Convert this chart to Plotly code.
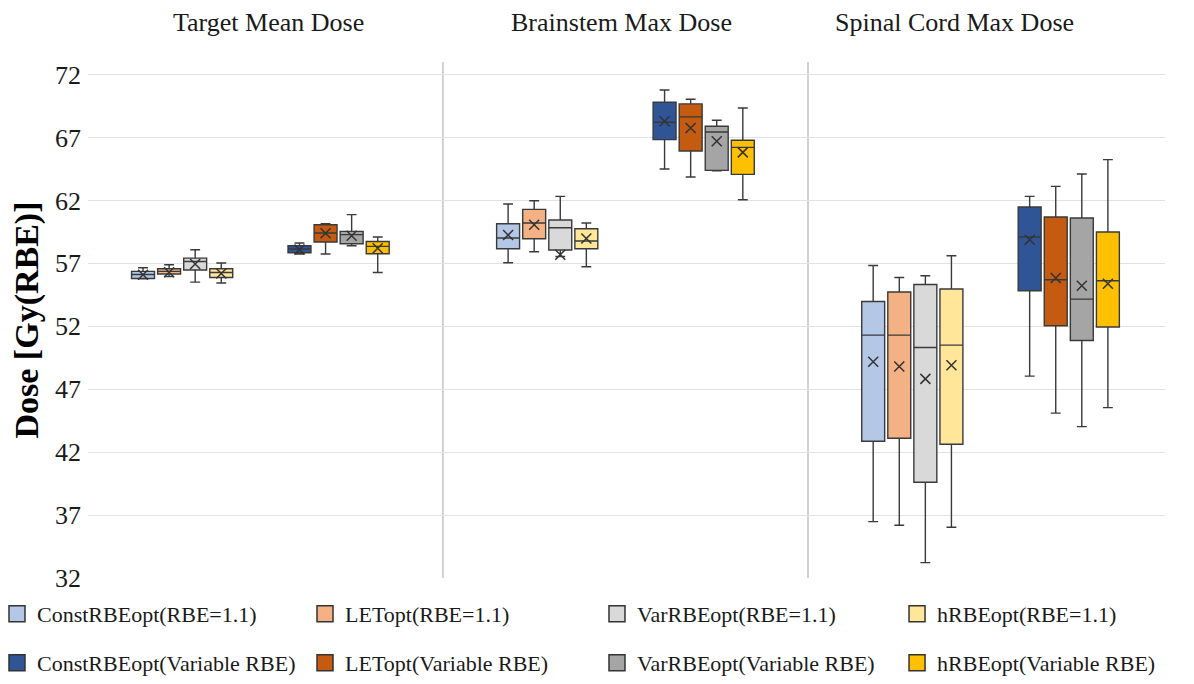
import plotly.graph_objects as go

# ---------------- data ----------------
organs = ["Target Mean Dose", "Brainstem Max Dose", "Spinal Cord Max Dose"]
series_names = [
    "ConstRBEopt(RBE=1.1)", "LETopt(RBE=1.1)", "VarRBEopt(RBE=1.1)", "hRBEopt(RBE=1.1)",
    "ConstRBEopt(Variable RBE)", "LETopt(Variable RBE)", "VarRBEopt(Variable RBE)", "hRBEopt(Variable RBE)",
]
# each row: one series, values per organ [Target, Brainstem, Spinal Cord]
lower = [
    [55.78, 57.05, 36.48], [55.96, 57.92, 36.19], [55.51, 57.55, 33.22], [55.44, 56.73, 36.03],
    [57.74, 64.50, 48.04], [57.74, 63.86, 45.10], [58.40, 64.35, 44.03], [56.28, 62.06, 45.54],
]
q1 = [
    [55.80, 58.16, 42.87], [56.15, 58.96, 43.11], [56.47, 58.06, 39.61], [55.88, 58.16, 42.63],
    [57.84, 66.83, 54.82], [58.70, 65.93, 52.04], [58.56, 64.39, 50.87], [57.77, 64.07, 51.94],
]
median = [
    [56.12, 59.01, 51.30], [56.36, 60.21, 51.30], [57.15, 59.83, 50.31], [56.28, 58.78, 50.50],
    [58.14, 68.21, 59.09], [59.41, 68.64, 55.70], [59.28, 67.44, 54.16], [58.35, 66.22, 55.62],
]
q3 = [
    [56.36, 60.15, 53.97], [56.57, 61.29, 54.72], [57.42, 60.44, 55.32], [56.57, 59.75, 54.96],
    [58.40, 69.80, 61.48], [60.07, 69.67, 60.68], [59.54, 67.89, 60.60], [58.74, 66.78, 59.49],
]
upper = [
    [56.65, 61.72, 56.83], [56.89, 61.98, 55.88], [58.08, 62.32, 56.02], [57.03, 60.21, 57.61],
    [58.62, 70.78, 62.32], [60.15, 70.04, 63.12], [60.87, 68.37, 64.10], [59.09, 69.35, 65.24],
]
mean = [
    [56.10, 59.25, 49.18], [56.30, 60.07, 48.80], [56.95, 57.69, 47.82], [56.20, 58.98, 48.91],
    [58.10, 68.29, 58.88], [59.40, 67.76, 55.83], [59.20, 66.70, 55.22], [58.20, 65.82, 55.38],
]
y_ticks = [32, 37, 42, 47, 52, 57, 62, 67, 72]

fill_colors = ["#b4c7e7", "#f4b183", "#d9d9d9", "#ffe699",
               "#2f5597", "#c55a11", "#a5a5a5", "#ffc000"]
FONT = "Liberation Serif"

# ---------------- category slots ----------------
def cat(o, k):
    return f"{o}-{k}"

category_order = []
for o in range(3):
    category_order += [cat(o, k) for k in range(4)]
    category_order += [f"gap{o}a", f"gap{o}b"]
    category_order += [cat(o, k) for k in range(4, 8)]
    if o < 2:
        category_order += [f"sep{o}{j}" for j in range(4)]

legend_ids = ["legend"] + [f"legend{i}" for i in range(2, 9)]

fig = go.Figure()
for k, name in enumerate(series_names):
    xs = [cat(o, k) for o in range(3)]
    fig.add_trace(go.Box(
        x=xs, q1=q1[k], median=median[k], q3=q3[k],
        lowerfence=lower[k], upperfence=upper[k],
        name=name, fillcolor=fill_colors[k],
        line=dict(color="#3a3a3a", width=1.4),
        width=0.88, whiskerwidth=0.43, boxpoints=False,
        showlegend=False,
        hoverinfo="skip",
    ))
for k, name in enumerate(series_names):
    xs = [cat(o, k) for o in range(3)]
    fig.add_trace(go.Scatter(
        x=xs, y=mean[k], mode="markers", showlegend=False,
        marker=dict(symbol="x-thin", size=10, line=dict(width=1.5, color="#333333")),
        hoverinfo="skip",
    ))
# legend entries (square swatches, no data)
for k, name in enumerate(series_names):
    fig.add_trace(go.Scatter(
        x=[None], y=[None], mode="markers", name=name, legend=legend_ids[k],
        marker=dict(symbol="square", size=16, color=fill_colors[k],
                    line=dict(width=1.5, color="#333333")),
        hoverinfo="skip",
    ))

# separators between organ sections
for xv in [11.5, 25.5]:
    fig.add_shape(type="line", xref="x", yref="paper", x0=xv, x1=xv, y0=0, y1=1,
                  line=dict(color="#d0d0d0", width=2), layer="below")

title_x = [0.168, 0.4949, 0.805]
for o, t in enumerate(organs):
    fig.add_annotation(text=t, xref="paper", yref="paper", x=title_x[o], y=1,
                       xanchor="center", yanchor="middle", yshift=40, showarrow=False,
                       font=dict(family=FONT, size=26, color="#1a1a1a"))

legend_x = [-0.0845, 0.2015, 0.4726, 0.7512]
legend_y = [-0.0698, -0.1647]
legend_layout = {}
for k, lid in enumerate(legend_ids):
    legend_layout[lid] = dict(
        orientation="h", xanchor="left", yanchor="middle",
        x=legend_x[k % 4], y=legend_y[k // 4],
        font=dict(family=FONT, size=22, color="#1a1a1a"),
        bgcolor="rgba(0,0,0,0)",
    )

fig.update_layout(
    width=1194, height=684,
    margin=dict(l=88, r=29, t=62, b=106, autoexpand=False),
    plot_bgcolor="white", paper_bgcolor="white",
    boxmode="overlay",
    showlegend=True,
    xaxis=dict(type="category", categoryorder="array", categoryarray=category_order,
               range=[-2.11, 39.19], showticklabels=False, showgrid=False,
               zeroline=False, showline=False, ticks="", automargin=False),
    yaxis=dict(range=[32, 73], tickvals=y_ticks, ticktext=[str(v) for v in y_ticks],
               showgrid=True, gridcolor="#e2e2e2", gridwidth=1, zeroline=False,
               showline=False, ticks="", automargin=False, ticklabelstandoff=6,
               tickfont=dict(family=FONT, size=26, color="#1a1a1a"),
               title=dict(text="<b>Dose [Gy(RBE)]</b>", standoff=6,
                          font=dict(family=FONT, size=34, color="#000000"))),
    **legend_layout,
)

fig.write_html("out.html", config={"displayModeBar": False},
               post_script="document.body.style.margin='0';")
